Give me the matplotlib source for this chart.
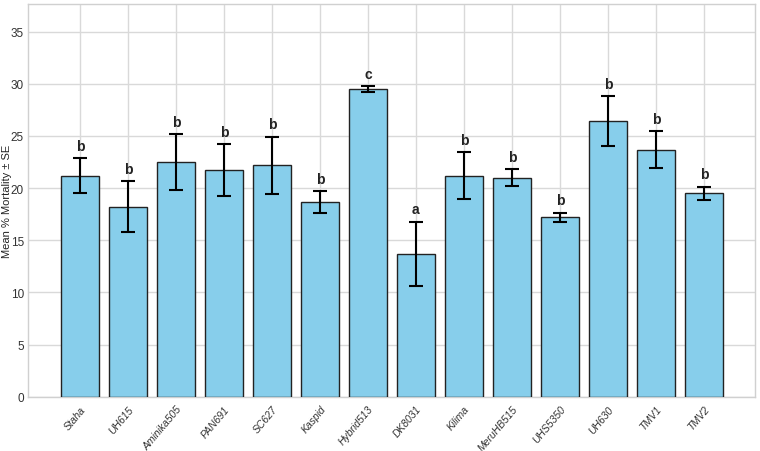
import matplotlib
matplotlib.use('Agg')
import matplotlib.pyplot as plt
import numpy as np

varieties = ['Staha', 'UH615', 'Aminika505', 'PAN691', 'SC627', 'Kaspid', 'Hybrid513',
             'DK8031', 'Kilima', 'MeruHB515', 'UHS5350', 'UH630', 'TMV1', 'TMV2']
mortality = [21.2, 18.2, 22.5, 21.7, 22.2, 18.7, 29.5, 13.7, 21.2, 21.0, 17.2, 26.4, 23.7, 19.5]
se = [1.65, 2.45, 2.7, 2.5, 2.75, 1.05, 0.25, 3.1, 2.25, 0.8, 0.45, 2.4, 1.8, 0.65]
letters = ['b', 'b', 'b', 'b', 'b', 'b', 'c', 'a', 'b', 'b', 'b', 'b', 'b', 'b']

plt.rcParams['font.family'] = ['Liberation Sans Narrow', 'Liberation Sans', 'DejaVu Sans']

fig, ax = plt.subplots(figsize=(7.6, 4.52), dpi=100)
fig.subplots_adjust(left=0.037, right=0.993, top=0.99, bottom=0.12)

x = np.arange(len(varieties))
ax.bar(x, mortality, width=0.8, color='#87CEEB', edgecolor='#222222', linewidth=1.0,
       yerr=se, capsize=5, error_kw=dict(ecolor='black', elinewidth=1.5, capthick=1.5),
       zorder=3)

for xi, m, s, lab in zip(x, mortality, se, letters):
    ax.text(xi, m + s + 0.5, lab, ha='center', va='bottom', fontsize=10,
            fontweight='bold', color='#222222', zorder=4)

ax.set_xticks(x)
ax.set_xticklabels(varieties, rotation=50, ha='right', rotation_mode='anchor',
                   fontsize=7.5, style='italic', color='#333333')
ax.set_xlim(-1.08, 14.06)
ax.set_ylim(0, 37.7)
ax.set_yticks(range(0, 36, 5))
ax.tick_params(axis='y', labelsize=8.5, length=0, colors='#333333', pad=3)
ax.tick_params(axis='x', length=0, pad=5)
ax.set_ylabel('Mean % Mortality ± SE', fontsize=8, color='#222222',
              family=['Liberation Sans', 'DejaVu Sans'])
ax.yaxis.set_label_coords(-0.022, 0.5)

ax.grid(True, color='#d9d9d9', linewidth=1.0, zorder=0)
ax.set_axisbelow(True)
for sp in ax.spines.values():
    sp.set_color('#d0d0d0')
    sp.set_linewidth(1.0)

fig.savefig('out.png', dpi=100)
